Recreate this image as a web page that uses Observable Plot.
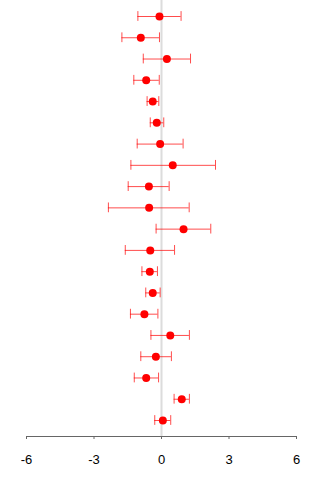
<!DOCTYPE html>
<html>
<head>
<meta charset="utf-8">
<script src="https://cdn.jsdelivr.net/npm/d3@7"></script>
<script src="https://cdn.jsdelivr.net/npm/@observablehq/plot@0.6"></script>
<style>
  html, body { margin: 0; padding: 0; background: #fff; }
  #chart svg { display: block; }
</style>
</head>
<body>
<div id="chart"></div>
<script>
// Effect estimates with lower / upper confidence limits, top row first
const estimate = [-0.09, -0.92, 0.24, -0.68, -0.39, -0.21, -0.06, 0.50, -0.56, -0.55,
                  0.98, -0.50, -0.52, -0.39, -0.76, 0.39, -0.25, -0.68, 0.90, 0.06];
const lower    = [-1.05, -1.76, -0.81, -1.23, -0.64, -0.50, -1.08, -1.36, -1.48, -2.36,
                  -0.24, -1.61, -0.87, -0.70, -1.38, -0.47, -0.92, -1.21, 0.56, -0.30];
const upper    = [0.87, -0.09, 1.29, -0.10, -0.12, 0.10, 0.96, 2.40, 0.34, 1.23,
                  2.19, 0.58, -0.18, -0.06, -0.16, 1.24, 0.44, -0.13, 1.24, 0.41];
const xTicks = [-6, -3, 0, 3, 6];

const rows = estimate.map((est, k) => ({row: k + 1, est, lo: lower[k], hi: upper[k]}));
const capHalf = 0.23; // half height of the whisker caps, in row units

const errColor = "rgba(255,0,0,0.7)";

const chart = Plot.plot({
  width: 320,
  height: 480,
  marginLeft: 26,
  marginRight: 24,
  marginTop: 0,
  marginBottom: 44,
  style: {fontFamily: "Liberation Sans, Arial, sans-serif", fontSize: "13px", background: "#fff"},
  x: {domain: [-6, 6]},
  y: {domain: [1, 20], range: [16, 420], axis: null},
  marks: [
    Plot.ruleX([0], {stroke: "#dcdcdc", strokeWidth: 2}),
    Plot.frame({anchor: "bottom", stroke: "#666"}),
    Plot.axisX({ticks: xTicks, tickFormat: d => String(d), tickSize: 3, tickPadding: 15,
                stroke: "#666", color: "#000", fontSize: 13}),
    Plot.ruleY(rows, {y: "row", x1: "lo", x2: "hi", stroke: errColor, strokeWidth: 1}),
    Plot.ruleX(rows, {x: "lo", y1: d => d.row - capHalf, y2: d => d.row + capHalf, stroke: errColor, strokeWidth: 1}),
    Plot.ruleX(rows, {x: "hi", y1: d => d.row - capHalf, y2: d => d.row + capHalf, stroke: errColor, strokeWidth: 1}),
    Plot.dot(rows, {x: "est", y: "row", r: 4, fill: "red", stroke: "none"})
  ]
});
document.getElementById("chart").appendChild(chart);
</script>
</body>
</html>
